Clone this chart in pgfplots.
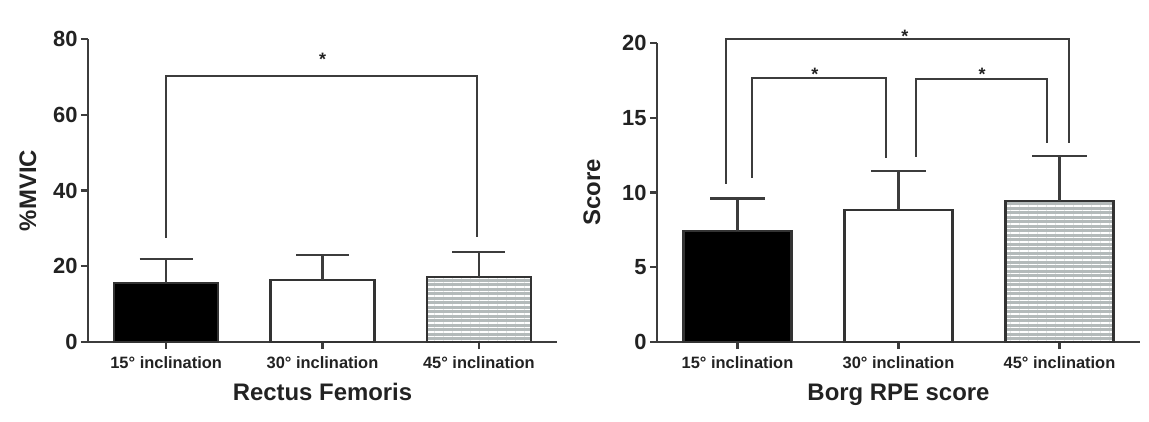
\documentclass[border=0pt]{standalone}
\usepackage{pgfplots}
\pgfplotsset{compat=1.18}
\usepackage{fontspec}
\setmainfont{Liberation Sans}
\usetikzlibrary{patterns.meta}
\definecolor{axc}{HTML}{3C3C3C}
\definecolor{edgec}{HTML}{333333}
\definecolor{txt}{HTML}{222222}
\definecolor{hatchgray}{RGB}{180,186,186}
\tikzset{st/.style={font=\fontsize{18}{20}\selectfont\bfseries, text=txt, anchor=base, inner sep=0pt}}
\pgfplotsset{
  gp/.style={
    scale only axis,
    anchor=south west,
    clip=false,
    axis lines=left,
    axis line style={-, line width=2.2bp, draw=axc},
    tick align=outside,
    major tick length=7bp,
    every tick/.style={line width=2.2bp, draw=axc},
    xmin=-0.5, xmax=2.5, ymin=0,
    xtick={0,1,2},
    xticklabels={15° inclination,30° inclination,45° inclination},
    /pgf/number format/assume math mode=true,
    xticklabel style={font=\fontsize{16.5}{18}\selectfont\bfseries, text=txt, anchor=base, yshift=-19bp},
    yticklabel style={font=\fontsize{22}{24}\selectfont\bfseries, text=txt, anchor=east},
    label style={font=\fontsize{24}{28}\selectfont\bfseries, text=txt},
    error bars/y dir=plus, error bars/y explicit,
  },
  bk/.style={line width=2.2bp, draw=axc, mark=none, sharp plot, forget plot},
  eb/.style={error bars/error bar style={line width=2.2bp, draw=axc},
             error bars/error mark=|,
             error bars/error mark options={line width=2.2bp, draw=axc, mark size=#1}},
}
\begin{document}
\begin{tikzpicture}
\useasboundingbox (0,0) rectangle (1149bp,422bp);
% Left chart
\begin{axis}[gp, at={(88bp,80bp)}, width=469bp, height=303bp, ymax=80,
  ytick={0,20,40,60,80},
  xlabel={Rectus Femoris},
  xlabel style={at={(axis description cs:0.5,0)}, anchor=base, yshift=-58bp},
  ylabel={\%MVIC},
  ylabel style={at={(axis description cs:-0.128,0.5)}, anchor=center, rotate=0},
]
\addplot[ybar, bar width=104bp, bar shift=0pt, fill=black, draw=edgec, line width=2.2bp, eb=26.5bp]
  coordinates {(0,15.6) +- (0,6.3)};
\addplot[ybar, bar width=104bp, bar shift=0pt, fill=white, draw=edgec, line width=2.2bp, eb=26.5bp]
  coordinates {(1,16.4) +- (0,6.6)};
\addplot[ybar, bar width=104bp, bar shift=0pt, fill=hatchgray, draw=edgec, line width=2.2bp,
  postaction={pattern={Lines[angle=0,distance=4.5bp,line width=1.1bp]}, pattern color=white}, eb=26.5bp]
  coordinates {(2,17.2) +- (0,6.6)};
\addplot[bk] coordinates {(0,27.5) (0,70.3) (1.99,70.3) (1.99,27.7)};
\node[st] at (axis cs:1,73.1) {*};
\end{axis}
% Right chart
\begin{axis}[gp, at={(657bp,80bp)}, width=483bp, height=299bp, ymax=20,
  ytick={0,5,10,15,20},
  xlabel={Borg RPE score},
  xlabel style={at={(axis description cs:0.5,0)}, anchor=base, yshift=-58bp},
  ylabel={Score},
  ylabel style={at={(axis description cs:-0.1346,0.5)}, anchor=center, rotate=0},
]
\addplot[ybar, bar width=108bp, bar shift=0pt, fill=black, draw=edgec, line width=2.2bp, eb=27.5bp]
  coordinates {(0,7.4) +- (0,2.2)};
\addplot[ybar, bar width=108bp, bar shift=0pt, fill=white, draw=edgec, line width=2.2bp, eb=27.5bp]
  coordinates {(1,8.85) +- (0,2.6)};
\addplot[ybar, bar width=108bp, bar shift=0pt, fill=hatchgray, draw=edgec, line width=2.2bp,
  postaction={pattern={Lines[angle=0,distance=4.5bp,line width=1.1bp]}, pattern color=white}, eb=27.5bp]
  coordinates {(2,9.45) +- (0,3.0)};
\addplot[bk] coordinates {(-0.07,10.6) (-0.07,20.27) (2.06,20.27) (2.06,13.3)};
\addplot[bk] coordinates {(0.09,10.97) (0.09,17.64) (0.92,17.64) (0.92,12.3)};
\addplot[bk] coordinates {(1.11,12.4) (1.11,17.6) (1.92,17.6) (1.92,13.3)};
\node[st] at (axis cs:1.04,20.0) {*};
\node[st] at (axis cs:0.48,17.46) {*};
\node[st] at (axis cs:1.52,17.46) {*};
\end{axis}
\end{tikzpicture}
\end{document}
